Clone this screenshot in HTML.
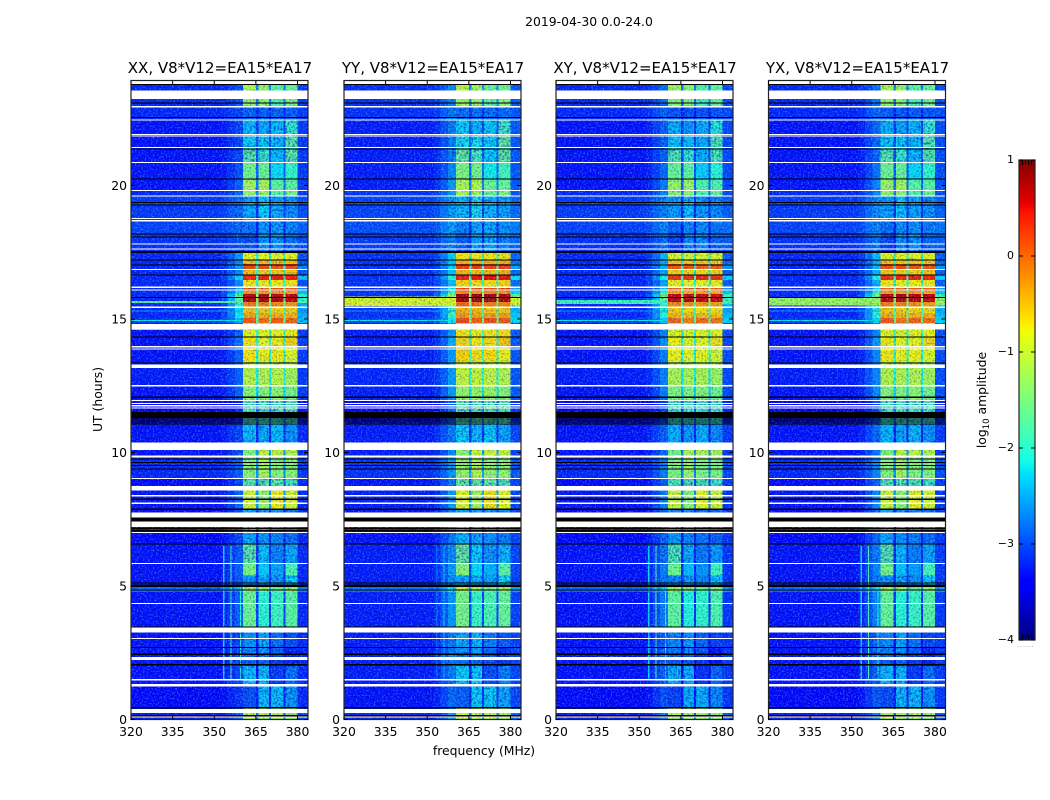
<!DOCTYPE html>
<html lang="en">
<head>
<meta charset="utf-8">
<title>2019-04-30 0.0-24.0</title>
<style>
html,body{margin:0;padding:0;background:#fff;}
svg{display:block;}
text{font-family:"DejaVu Sans","Liberation Sans",sans-serif;fill:#000;}
</style>
</head>
<body>
<svg id="chart" xmlns="http://www.w3.org/2000/svg" width="1050" height="800" viewBox="0 0 1050 800">
<defs>
<filter id="speckle-light" x="0" y="0" width="100%" height="100%" color-interpolation-filters="sRGB">
<feTurbulence type="fractalNoise" baseFrequency="0.62" numOctaves="1" seed="3"/>
<feColorMatrix type="matrix" values="0 0 0 0 0.45  0 0 0 0 0.75  0 0 0 0 1  3.4 0 0 0 -1.65"/>
</filter>
<filter id="speckle-dark" x="0" y="0" width="100%" height="100%" color-interpolation-filters="sRGB">
<feTurbulence type="fractalNoise" baseFrequency="0.58" numOctaves="1" seed="11"/>
<feColorMatrix type="matrix" values="0 0 0 0 0  0 0 0 0 0  0 0 0 0 0.45  0 3 0 0 -1.4"/>
</filter>
<filter id="speckle-band" x="0" y="0" width="100%" height="100%" color-interpolation-filters="sRGB">
<feTurbulence type="fractalNoise" baseFrequency="0.42" numOctaves="2" seed="23"/>
<feColorMatrix type="matrix" values="0 0 0 0 0  0 0 0 0 0.05  0 0 0 0 0.8  0 0 3.4 0 -1.5"/>
</filter>
</defs>
<text x="589" y="26" font-size="12.4" text-anchor="middle">2019-04-30 0.0-24.0</text>
<text x="484" y="755" font-size="12.4" text-anchor="middle">frequency (MHz)</text>
<text x="0" y="0" font-size="12.4" text-anchor="middle" transform="translate(102,399.5) rotate(-90)">UT (hours)</text>
<text x="0" y="0" font-size="12.4" text-anchor="middle" transform="translate(986,400) rotate(-90)">log<tspan dy="3" font-size="8.5">10</tspan><tspan dy="-3"> amplitude</tspan></text>
<g id="panels"></g>
<g id="colorbar"></g>
</svg>
<script>
// ---------- chart data ----------
const panelNames = ["XX", "YY", "XY", "YX"];
const panelBaseline = "V8*V12=EA15*EA17";
const freqTicks = [320, 335, 350, 365, 380];
const hourTicks = [0, 5, 10, 15, 20];
const colorbarTicks = [1, 0, -1, -2, -3, -4];
const colorbarTickLabels = ["1", "0", "\u22121", "\u22122", "\u22123", "\u22124"];

// start hour of each time block, and log10 amplitude for each frequency zone
const hourStart = [0,0.44,1.23,2.0,2.45,2.7,3.25,4.78,5.05,5.4,5.85,6.57,7.9,8.75,9.03,9.85,10.1,11.05,11.97,12.53,13.39,13.99,14.33,14.85,15.04,15.22,15.45,15.64,15.94,16.05,16.2,16.46,16.65,16.87,17.06,17.21,17.5,18.18,18.68,19.6,19.81,20.24,20.86,21.42,21.85,22.45,22.95,23.55];
const backgroundLevel = [-3.05,-3.15,-3.1,-3.1,-3.1,-3.1,-3.1,-2.65,-3.1,-3.1,-3.1,-3.15,-3.1,-3.15,-3.0,-3.1,-3.1,-3.3,-3.1,-3.05,-3.1,-3.1,-3.1,-2.9,-3.0,-3.0,-3.0,-3.0,-3.0,-3.0,-3.0,-3.0,-3.0,-3.0,-3.0,-3.0,-2.95,-2.85,-2.9,-3.0,-3.1,-3.1,-3.1,-3.1,-3.1,-3.0,-3.0,-3.0];
const shoulderLevel = [-2.9,-3.1,-3.0,-3.0,-3.0,-3.0,-2.9,-2.5,-2.9,-2.9,-2.9,-3.0,-2.9,-3.0,-2.9,-3.0,-3.0,-3.2,-2.9,-2.9,-2.9,-2.8,-2.9,-2.5,-2.2,-2.2,-2.1,-1.7,-2.2,-2.5,-2.7,-2.3,-2.7,-2.6,-2.7,-2.6,-2.9,-2.8,-2.8,-2.9,-2.9,-3.0,-3.0,-3.0,-3.0,-3.0,-3.0,-3.0];
const edgeLevel = [-3.0,-3.2,-3.2,-3.2,-3.2,-3.2,-3.2,-2.7,-3.2,-3.2,-3.2,-3.2,-3.2,-3.2,-3.1,-3.2,-3.2,-3.3,-3.1,-3.1,-3.1,-3.1,-3.1,-2.4,-2.5,-2.6,-2.5,-2.0,-2.4,-2.7,-3.0,-2.4,-3.0,-2.7,-3.0,-3.0,-3.0,-2.9,-3.0,-3.1,-3.1,-3.1,-3.1,-3.1,-3.1,-3.1,-3.1,-3.1];
const band1Level = [-1.1,-2.95,-2.35,-2.85,-2.65,-2.55,-1.6,-1.2,-2.55,-1.5,-1.7,-2.45,-0.95,-1.7,-1.4,-1.45,-2.35,-1.8,-1.4,-1.1,-0.7,-0.7,-0.8,0.1,-0.35,-0.5,-0.1,0.75,-0.3,0.1,-0.7,0.35,-0.5,0.15,-0.5,-0.8,-2.95,-2.75,-2.45,-1.3,-1.25,-1.55,-1.7,-2.25,-2.35,-2.85,-1.35,-1.15];
const band2Level = [-1.15,-2.35,-2.35,-2.85,-2.55,-2.45,-2.0,-1.3,-2.45,-2.35,-2.35,-2.55,-1.3,-1.7,-1.2,-1.05,-2.45,-1.8,-1.4,-1.1,-0.75,-0.8,-0.85,-0.05,-0.4,-0.55,-0.15,0.8,-0.35,0.05,-0.75,0.4,-0.55,0.15,-0.5,-0.8,-2.55,-2.55,-2.25,-1.3,-1.2,-1.6,-1.9,-2.25,-2.45,-2.85,-1.35,-1.3];
const band3Level = [-1.15,-2.35,-3.05,-3.05,-2.85,-2.75,-1.9,-1.6,-2.55,-2.55,-2.65,-2.65,-0.75,-1.7,-1.4,-1.05,-2.35,-1.8,-1.35,-1.1,-0.75,-0.75,-0.8,0.05,-0.4,-0.6,-0.2,0.75,-0.3,0.1,-0.75,0.45,-0.55,0.1,-0.5,-0.8,-2.55,-2.55,-2.45,-1.7,-1.7,-2.25,-2.35,-2.35,-2.35,-2.85,-1.8,-1.7];
const band4Level = [-1.3,-2.55,-2.75,-3.2,-3.2,-2.95,-1.7,-1.3,-2.25,-1.8,-2.45,-2.75,-0.9,-1.8,-1.4,-1.1,-2.55,-1.8,-1.5,-1.2,-0.85,-0.6,-0.75,0.0,-0.4,-0.6,-0.25,0.7,-0.35,0.1,-0.7,0.4,-0.5,0.15,-0.5,-0.8,-2.75,-2.65,-2.55,-1.5,-1.7,-1.95,-1.7,-1.7,-1.95,-2.85,-1.5,-1.6];
const notchLevel = [-2.8,-3.2,-3.3,-3.3,-3.3,-3.3,-3.1,-2.5,-3.1,-3.1,-3.1,-3.2,-2.6,-2.9,-2.6,-2.6,-3.2,-2.8,-2.3,-2.1,-2.0,-2.0,-1.9,-1.6,-1.7,-1.8,-1.5,-1.2,-1.6,-1.6,-1.9,-1.8,-1.9,-1.8,-1.9,-2.0,-3.2,-3.2,-3.1,-2.7,-2.8,-2.9,-2.9,-2.9,-3.0,-3.2,-2.7,-2.7];

// per-polarisation amplitude offsets (log10)
const bandOffset = [0, 0.08, -0.08, -0.03];
const shoulderOffset = [0, 0.3, 0.15, 0.2];
const backgroundOffset = [-0.2, -0.15, -0.2, -0.2];
const rfiLineOffset = [0, -0.6, 0, 0];

// broadband interference row per polarisation
const rfiRowStart = [15.6, 15.48, 15.56, 15.5];
const rfiRowEnd = [15.68, 15.85, 15.72, 15.8];
const rfiRowLevel = [-1.7, -0.9, -1.9, -1.3];

// thin intermittent rows
const thinRowHour = [14.93, 14.58, 15.28];
const thinRowLevel = [-2.2, -2.3, -2.6];

// narrowband interference lines
const rfiLineFreq = [353.2, 355.8, 359.2];
const rfiLineStart = [1.47, 1.47, 1.47];
const rfiLineEnd = [6.5, 6.5, 5.0];
const rfiLineLevel = [-2.3, -1.8, -2.1];

// flagged time ranges (drawn white) and zero-amplitude ranges (drawn black)
const flaggedStart = [0.08,0.24,1.23,1.47,2.23,2.03,3.01,3.25,4.33,5.83,7.0,7.21,7.56,8.08,8.36,8.57,9.01,9.82,10.09,11.64,11.73,11.82,11.92,12.48,13.16,13.85,13.94,14.61,15.42,16.07,16.17,16.84,17.6,17.79,18.66,18.74,19.59,19.79,20.84,21.4,21.83,21.89,22.43,22.93,23.24,23.78];
const flaggedEnd = [0.12,0.39,1.33,1.51,2.35,2.08,3.06,3.44,4.37,5.87,7.03,7.41,7.75,8.12,8.41,8.75,9.05,9.88,10.37,11.68,11.77,11.86,11.96,12.52,13.29,13.89,13.98,14.81,15.46,16.11,16.21,16.88,17.64,17.83,18.7,18.78,19.63,19.83,20.88,21.44,21.87,21.93,22.47,22.97,23.55,23.92];
const blackStart = [0.12,0.42,2.03,2.42,2.68,3.44,4.83,4.96,5.1,6.55,7.05,7.14,7.41,7.85,8.23,9.36,9.49,9.6,9.73,11.05,11.13,11.2,11.28,12.05,13.34,14.31,15.79,16.63,17.0,17.19,17.48,18.05,18.16,19.25,19.34,20.22,21.35,22.52,23.07,23.76];
const blackEnd = [0.16,0.46,2.07,2.48,2.72,3.48,4.87,5.05,5.14,6.59,7.09,7.18,7.56,7.9,8.27,9.4,9.53,9.64,9.77,11.08,11.16,11.23,11.51,12.09,13.38,14.35,15.83,16.67,17.04,17.23,17.54,18.09,18.2,19.29,19.38,20.26,21.39,22.56,23.11,23.8];

// frequency zones in MHz
const bandStart = [360.4, 365.9, 370.5, 375.6];
const bandEnd = [365.1, 369.8, 374.9, 380.0];

// ---------- axes ----------
const SVG_NS = "http://www.w3.org/2000/svg";
const panelLeft = [131, 344, 556, 768.5];
const panelWidth = 177;
const panelTop = 81;
const panelBottom = 720;
const FREQ_MIN = 320;
const PX_PER_MHZ = 2.775;
const PX_PER_HOUR = 26.7;
const HOUR_ZERO_Y = 719.5;
const hourMax = (HOUR_ZERO_Y - panelTop) / PX_PER_HOUR;
const freqMax = FREQ_MIN + panelWidth / PX_PER_MHZ;
const freqX = (p, f) => panelLeft[p] + (f - FREQ_MIN) * PX_PER_MHZ;
const hourY = h => HOUR_ZERO_Y - h * PX_PER_HOUR;

// matplotlib jet colormap across log10 amplitude -4..1
function ramp(t, pts) {
  for (let i = 1; i < pts.length; i++) {
    if (t <= pts[i][0]) {
      const a = pts[i - 1], b = pts[i];
      return a[1] + (b[1] - a[1]) * (t - a[0]) / (b[0] - a[0]);
    }
  }
  return pts[pts.length - 1][1];
}
const jetR = [[0,0],[0.35,0],[0.66,1],[0.89,1],[1,0.5]];
const jetG = [[0,0],[0.125,0],[0.375,1],[0.64,1],[0.91,0],[1,0]];
const jetB = [[0,0.5],[0.11,1],[0.34,1],[0.65,0],[1,0]];
function jet(level) {
  const t = Math.max(0, Math.min(1, (level + 4) / 5));
  return "rgb(" + Math.round(255 * ramp(t, jetR)) + "," + Math.round(255 * ramp(t, jetG)) + "," + Math.round(255 * ramp(t, jetB)) + ")";
}

function svgEl(tag, attrs, parent) {
  const el = document.createElementNS(SVG_NS, tag);
  for (const k in attrs) el.setAttribute(k, attrs[k]);
  parent.appendChild(el);
  return el;
}

function drawCell(group, p, f0, f1, h0, h1, level) {
  const x0 = freqX(p, f0);
  const x1 = freqX(p, Math.min(f1, freqMax));
  const y0 = hourY(Math.min(h1, hourMax));
  const y1 = hourY(h0);
  const el = svgEl("rect", {x: x0, y: y0, width: x1 - x0, height: y1 - y0, fill: jet(level), "shape-rendering": "crispEdges"}, group);
  
  
}

function drawFlag(group, p, h0, h1, color, name) {
  const y0 = hourY(Math.min(h1, hourMax));
  const y1 = hourY(h0);
  const el = svgEl("rect", {x: panelLeft[p], y: y0, width: panelWidth, height: Math.max(1, y1 - y0), fill: color, "shape-rendering": "crispEdges"}, group);
  
  
}

const panelsRoot = document.getElementById("panels");
panelNames.forEach(function (pol, p) {
  const g = svgEl("g", {}, panelsRoot);
  
  

  const cells = svgEl("g", {}, g);
  
  

  hourStart.forEach(function (h0, i) {
    const h1 = i + 1 < hourStart.length ? hourStart[i + 1] : 24;
    const bg = backgroundLevel[i] + backgroundOffset[p];
    const sh = shoulderLevel[i] + shoulderOffset[p];
    const bands = [band1Level[i], band2Level[i], band3Level[i], band4Level[i]];
    drawCell(cells, p, FREQ_MIN, 352.5, h0, h1, bg);
    drawCell(cells, p, 352.5, 354.7, h0, h1, bg + 0.15 * (sh - bg));
    drawCell(cells, p, 354.7, 357.5, h0, h1, bg + 0.5 * (sh - bg));
    drawCell(cells, p, 357.5, 360.4, h0, h1, sh);
    drawCell(cells, p, 380, freqMax, h0, h1, edgeLevel[i] + shoulderOffset[p] / 2);
    bands.forEach(function (v, b) {
      drawCell(cells, p, bandStart[b], bandEnd[b], h0, h1, v + bandOffset[p]);
      if (b < 3) drawCell(cells, p, bandEnd[b], bandStart[b + 1], h0, h1, notchLevel[i] + bandOffset[p]);
    });
  });

  // broadband interference row
  drawCell(cells, p, FREQ_MIN, 360.4, rfiRowStart[p], rfiRowEnd[p], rfiRowLevel[p]);
  drawCell(cells, p, 380, freqMax, rfiRowStart[p], rfiRowEnd[p], rfiRowLevel[p]);

  // thin intermittent rows
  thinRowHour.forEach(function (h, i) {
    drawCell(cells, p, FREQ_MIN, 360.4, h, h + 0.04, thinRowLevel[i]);
  });

  // narrowband interference lines
  rfiLineFreq.forEach(function (f, i) {
    drawCell(cells, p, f, f + 0.45, rfiLineStart[i], rfiLineEnd[i], rfiLineLevel[i] + rfiLineOffset[p]);
  });

  // mottled texture on weak time blocks inside the receiver band
  hourStart.forEach(function (h0, i) {
    const h1 = i + 1 < hourStart.length ? hourStart[i + 1] : 24;
    const weakest = Math.max(band1Level[i], band2Level[i], band3Level[i], band4Level[i]);
    if (weakest < -1.6) {
      const y0 = hourY(Math.min(h1, hourMax));
      const m = svgEl("rect", {x: freqX(p, 357.5), y: y0, width: freqX(p, 380) - freqX(p, 357.5), height: hourY(h0) - y0, fill: "#000", filter: "url(#speckle-band)", opacity: 0.55}, g);
      
      
    }
  });

  // speckle texture
  const light = svgEl("rect", {x: panelLeft[p], y: panelTop, width: panelWidth, height: panelBottom - panelTop, fill: "#fff", filter: "url(#speckle-light)", opacity: 0.5}, g);
  
  
  const dark = svgEl("rect", {x: panelLeft[p], y: panelTop, width: panelWidth, height: panelBottom - panelTop, fill: "#000", filter: "url(#speckle-dark)", opacity: 0.4}, g);
  
  

  // flags
  flaggedStart.forEach(function (h, i) {
    drawFlag(g, p, h, flaggedEnd[i], "#fff", "flagged-row");
  });
  blackStart.forEach(function (h, i) {
    drawFlag(g, p, h, blackEnd[i], "#000", "zero-row");
  });

  // frame
  const frame = svgEl("rect", {x: panelLeft[p], y: panelTop - 0.5, width: panelWidth, height: panelBottom - panelTop, fill: "none", stroke: "#222", "stroke-width": 1.2}, g);
  
  

  // x ticks
  freqTicks.forEach(function (f) {
    const x = freqX(p, f);
    const t1 = svgEl("line", {x1: x, x2: x, y1: panelBottom, y2: panelBottom - 4, stroke: "#000", "stroke-width": 1}, g);
    
    
    const t2 = svgEl("line", {x1: x, x2: x, y1: panelTop, y2: panelTop + 4, stroke: "#000", "stroke-width": 1}, g);
    
    
    const lab = svgEl("text", {x: x, y: 736, "font-size": 12.4, "text-anchor": "middle"}, g);
    
    
    lab.textContent = f;
  });

  // y ticks
  hourTicks.forEach(function (h) {
    const y = hourY(h);
    const t1 = svgEl("line", {x1: panelLeft[p], x2: panelLeft[p] + 4, y1: y, y2: y, stroke: "#000", "stroke-width": 1}, g);
    
    
    const t2 = svgEl("line", {x1: panelLeft[p] + panelWidth, x2: panelLeft[p] + panelWidth - 4, y1: y, y2: y, stroke: "#000", "stroke-width": 1}, g);
    
    
    const lab = svgEl("text", {x: panelLeft[p] - 4, y: y + 4.5, "font-size": 12.4, "text-anchor": "end"}, g);
    
    
    lab.textContent = h;
  });

  // title
  const title = svgEl("text", {x: panelLeft[p] + panelWidth / 2 + 0.5, y: 73, "font-size": 15, "text-anchor": "middle"}, g);
  
  
  title.textContent = pol + ", " + panelBaseline;
});

// ---------- colorbar ----------
const CB_LEFT = 1019, CB_WIDTH = 16, CB_TOP = 160, CB_BOTTOM = 640;
const cbY = v => CB_TOP + (1 - v) * (CB_BOTTOM - CB_TOP) / 5;
const cbRoot = document.getElementById("colorbar");
for (let py = CB_TOP; py < CB_BOTTOM; py += 2) {
  const v = 1 - (py + 1 - CB_TOP) * 5 / (CB_BOTTOM - CB_TOP);
  const s = svgEl("rect", {x: CB_LEFT, y: py, width: CB_WIDTH, height: 2, fill: jet(v), "shape-rendering": "crispEdges"}, cbRoot);
  
  
}
const cbFrame = svgEl("rect", {x: CB_LEFT, y: CB_TOP, width: CB_WIDTH, height: CB_BOTTOM - CB_TOP, fill: "none", stroke: "#222", "stroke-width": 1.2}, cbRoot);


colorbarTicks.forEach(function (v, i) {
  const y = cbY(v);
  const t1 = svgEl("line", {x1: CB_LEFT, x2: CB_LEFT + 4, y1: y, y2: y, stroke: "#000", "stroke-width": 1}, cbRoot);
  
  
  const t2 = svgEl("line", {x1: CB_LEFT + CB_WIDTH, x2: CB_LEFT + CB_WIDTH - 4, y1: y, y2: y, stroke: "#000", "stroke-width": 1}, cbRoot);
  
  
  const lab = svgEl("text", {x: CB_LEFT - 5, y: y + 3, "font-size": 11, "text-anchor": "end"}, cbRoot);
  
  
  lab.textContent = colorbarTickLabels[i];
});
[3, 6, 9, 12].forEach(function (dx) {
  const top = svgEl("line", {x1: CB_LEFT + dx + 0.5, x2: CB_LEFT + dx + 0.5, y1: CB_TOP, y2: CB_TOP + 5, stroke: "#000", "stroke-width": 1}, cbRoot);
  
  
  const bot = svgEl("line", {x1: CB_LEFT + dx + 0.5, x2: CB_LEFT + dx + 0.5, y1: CB_BOTTOM, y2: CB_BOTTOM - 5, stroke: "#000", "stroke-width": 1}, cbRoot);
  
  
});
const cbDots = svgEl("text", {x: 1026, y: 647, "font-size": 6, "text-anchor": "middle", "letter-spacing": 1}, cbRoot);


cbDots.style.fill = "#777";
cbDots.textContent = "......";
</script>
</body>
</html>
